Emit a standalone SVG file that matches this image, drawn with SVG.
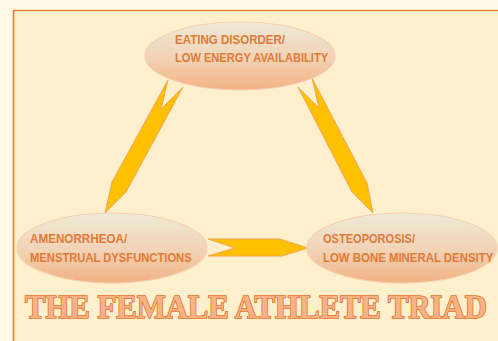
<svg xmlns="http://www.w3.org/2000/svg" width="498" height="341" viewBox="0 0 498 341">
<defs>
<linearGradient id="eg" x1="0" y1="0" x2="0" y2="1">
<stop offset="0" stop-color="#EEEAD8"/>
<stop offset="0.55" stop-color="#F2D2B4"/>
<stop offset="1" stop-color="#F3B183"/>
</linearGradient>
<style>
.ell{fill:url(#eg);stroke:#F8CFAE;stroke-width:1.2}
.lbl{font-family:"Liberation Sans",Arial,sans-serif;font-weight:bold;font-size:13px;fill:#E07A35}
.arr{fill:#FFC000;stroke:#F2A65A;stroke-width:1;stroke-linejoin:round}
.title{font-family:"Liberation Serif","DejaVu Serif",serif;font-weight:bold;font-size:33px;fill:#F7B386;stroke:#E4702A;stroke-width:1.6;paint-order:stroke}
</style>
</defs>
<rect x="0" y="0" width="498" height="341" fill="#FFF9E6"/>
<rect x="13.5" y="10.5" width="485" height="331" fill="#FFF0CD"/>
<path d="M13.5 341 V10.5 H498" fill="none" stroke="#E5803C" stroke-width="1.6"/>
<g id="connectors">
<polygon class="arr" points="168,80 161,109 183,87 126,192 105,213 112,182"/>
<polygon class="arr" points="298,87 319,108 312,78 367,183 373,213 352,192"/>
<polygon class="arr" points="208,239 280,239 308,248 282,256 208,256 235,248"/>
</g>
<g id="node-eating">
<ellipse class="ell" cx="240" cy="56" rx="95" ry="34"/>
<text class="lbl" transform="translate(175,44) scale(0.86,1)" textLength="128" lengthAdjust="spacingAndGlyphs">EATING DISORDER/</text>
<text class="lbl" transform="translate(175,62) scale(0.86,1)" textLength="178" lengthAdjust="spacingAndGlyphs">LOW ENERGY AVAILABILITY</text>
</g>
<g id="node-amenorrhea">
<ellipse class="ell" cx="112" cy="248" rx="95" ry="35"/>
<text class="lbl" transform="translate(30,243) scale(0.86,1)" textLength="113" lengthAdjust="spacingAndGlyphs">AMENORRHEOA/</text>
<text class="lbl" transform="translate(30,262) scale(0.86,1)" textLength="188" lengthAdjust="spacingAndGlyphs">MENSTRUAL DYSFUNCTIONS</text>
</g>
<g id="node-osteoporosis">
<ellipse class="ell" cx="402" cy="248" rx="95" ry="35"/>
<text class="lbl" transform="translate(323,243) scale(0.86,1)" textLength="107" lengthAdjust="spacingAndGlyphs">OSTEOPOROSIS/</text>
<text class="lbl" transform="translate(323,262) scale(0.86,1)" textLength="198" lengthAdjust="spacingAndGlyphs">LOW BONE MINERAL DENSITY</text>
</g>
<text class="title" transform="translate(25,318) scale(0.92,1)" textLength="502" lengthAdjust="spacingAndGlyphs">THE FEMALE ATHLETE TRIAD</text>
</svg>
